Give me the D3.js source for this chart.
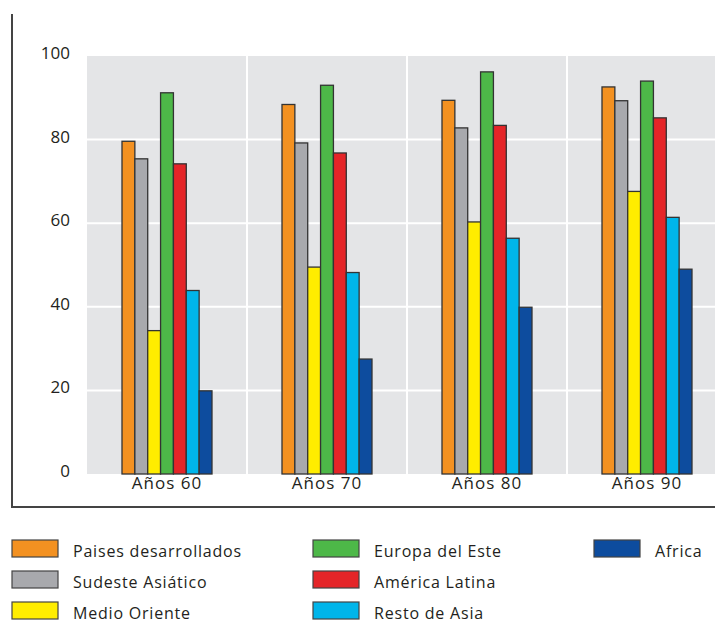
<!DOCTYPE html>
<html><head><meta charset="utf-8">
<script src="https://cdn.jsdelivr.net/npm/d3@7"></script>
<style>body{margin:0;background:#fff}svg{display:block}text{font-family:"Open Sans",Lato,sans-serif;fill:#231F20}</style>
</head><body><svg id="c" width="715" height="639"></svg>
<script>
const categories = ["Años 60","Años 70","Años 80","Años 90"];
const series = ["Paises desarrollados","Sudeste Asiático","Medio Oriente","Europa del Este","América Latina","Resto de Asia","Africa"];
const colors = ["#F39121","#A8A9AD","#FFED00","#4DB848","#E42528","#00B5EA","#0D4C9E"];
const paisesDesarrollados = [79.6, 88.4, 89.4, 92.6];
const sudesteAsiatico    = [75.4, 79.2, 82.8, 89.3];
const medioOriente       = [34.3, 49.5, 60.3, 67.6];
const europaEste         = [91.2, 93.0, 96.2, 94.0];
const americaLatina      = [74.2, 76.8, 83.4, 85.2];
const restoAsia          = [43.9, 48.2, 56.4, 61.4];
const africa             = [19.9, 27.5, 39.9, 49.0];
const yTicks = [0,20,40,60,80,100];
const values = [paisesDesarrollados, sudesteAsiatico, medioOriente, europaEste, americaLatina, restoAsia, africa];

const svg = d3.select("#c");
const plotLeft = 87, bandW = 160, plotTop = 56, plotBottom = 474;
const x0 = d3.scaleBand().domain(categories).range([plotLeft, plotLeft + bandW*categories.length]).paddingInner(0);
const groupW = 90;
const x1 = d3.scaleBand().domain(series).range([0, groupW]);
const y = d3.scaleLinear().domain([0,100]).range([plotBottom, plotTop]);

// plot background
svg.append("rect").attr("x", plotLeft).attr("y", y(100)).attr("width", 715-plotLeft).attr("height", plotBottom - y(100)).attr("fill", "#E4E5E7");
// horizontal grid
svg.append("g").selectAll("line").data(yTicks.filter(d=>d>0 && d<100)).join("line")
  .attr("x1", plotLeft).attr("x2", 715).attr("y1", d=>y(d)).attr("y2", d=>y(d))
  .attr("stroke", "#fff").attr("stroke-width", 2);
// vertical grid at band boundaries
svg.append("g").selectAll("line").data(categories.slice(1)).join("line")
  .attr("x1", d=>x0(d)).attr("x2", d=>x0(d)).attr("y1", y(100)).attr("y2", plotBottom)
  .attr("stroke", "#fff").attr("stroke-width", 2);

// y axis labels
const yAxis = d3.axisLeft(y).tickValues(yTicks).tickSize(0).tickPadding(0).tickFormat(d3.format("d"));
const ya = svg.append("g").attr("transform", `translate(70,-3)`).call(yAxis);
ya.select(".domain").remove();
ya.selectAll("text").attr("font-size", 17).attr("fill", "#231F20").attr("font-family", "'Open Sans',sans-serif");

// bars
const g = svg.append("g");
categories.forEach((cat, ci) => {
  const gx = x0(cat) + x0.bandwidth()/2 - groupW/2;
  series.forEach((s, si) => {
    const v = values[si][ci];
    g.append("rect")
      .attr("x", gx + x1(s))
      .attr("y", y(v))
      .attr("width", x1.bandwidth())
      .attr("height", plotBottom - y(v))
      .attr("fill", colors[si])
      .attr("stroke", "#333")
      .attr("stroke-width", 1.3);
  });
});

// x axis labels
const xAxis = d3.axisBottom(x0).tickSize(0).tickPadding(3);
const xa = svg.append("g").attr("transform", `translate(0,${plotBottom})`).call(xAxis);
xa.select(".domain").remove();
xa.selectAll("text").attr("font-size", 17).attr("letter-spacing", 1).attr("fill", "#231F20").attr("font-family", "'Open Sans',sans-serif");

// frame lines
svg.append("line").attr("x1", 12).attr("x2", 12).attr("y1", 14).attr("y2", 507).attr("stroke", "#444").attr("stroke-width", 2);
svg.append("line").attr("x1", 11).attr("x2", 715).attr("y1", 507).attr("y2", 507).attr("stroke", "#444").attr("stroke-width", 2);

// legend
const legendPos = [
  [12,540],[12,571],[12,602],
  [313,540],[313,571],[313,602],
  [594,540]
];
const lg = svg.append("g");
series.forEach((s, i) => {
  const [lx, ly] = legendPos[i];
  lg.append("rect").attr("x", lx).attr("y", ly).attr("width", 46).attr("height", 17)
    .attr("fill", colors[i]).attr("stroke", "#444").attr("stroke-width", 1.2);
  lg.append("text").attr("x", lx + 61).attr("y", ly + 17).attr("font-size", 16).attr("letter-spacing", 0.8).text(s);
});
</script></body></html>
